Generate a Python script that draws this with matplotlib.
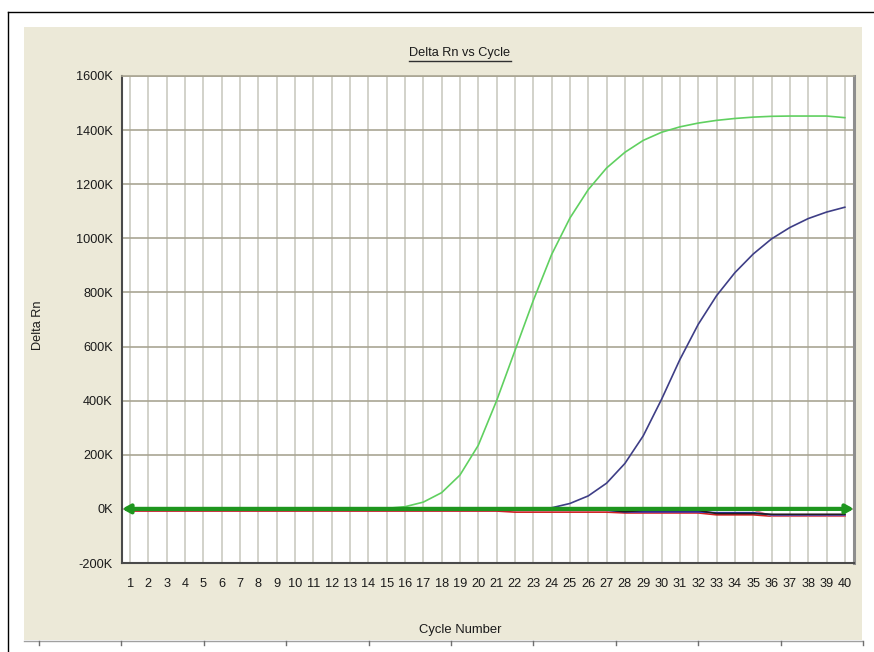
import numpy as np
import matplotlib
matplotlib.use("Agg")
import matplotlib.pyplot as plt
from matplotlib.lines import Line2D
from matplotlib.patches import Rectangle


# =====================================
# Data (Delta Rn in thousands)
# =====================================

cycles = list(range(1, 41))

sample_green = [
    -3, -2, -2, -1, -2, -1, -1, 0, -1, 0,
    0, -1, 0, 1, 2, 8, 25, 60, 125, 235,
    400, 585, 770, 940, 1075, 1180, 1260, 1318, 1362, 1392,
    1412, 1426, 1436, 1443, 1448, 1451, 1452, 1452, 1452, 1446
]

sample_navy = [
    -2, -2, -1, -2, -1, -1, -1, 0, -1, 0,
    -1, 0, -1, 0, 0, -1, 0, -1, 0, 0,
    -1, 0, 1, 4, 20, 48, 95, 168, 270, 405,
    552, 682, 788, 873, 942, 998, 1040, 1073, 1097, 1115
]

sample_red = [-8] * 21 + [-12] * 6 + [-15] * 5 + [-22] * 3 + [-27] * 5
sample_blue = [-5] * 27 + [-11] * 5 + [-14] * 3 + [-22] * 5
sample_black = [-4] * 27 + [-10] * 1 + [-6] * 4 + [-17] * 3 + [-20] * 5
sample_pink = [-4] * 35 + [-26] * 5

threshold = 0

y_ticks = list(range(-200, 1601, 200))
y_tick_labels = [f"{v}K" for v in y_ticks]


# =====================================
# Style
# =====================================

plt.rcParams['font.family'] = ['Liberation Sans', 'DejaVu Sans']

W, H = 874, 652

BEIGE = "#ECE9D8"
TEXT = "#1A1A1A"


# =====================================
# Figure + frame
# =====================================

fig = plt.figure(figsize=(W / 100, H / 100), dpi=100)
fig.patch.set_facecolor("white")

# beige panel
fig.add_artist(Rectangle(
    (24 / W, 1 - 640 / H),
    (862 - 24) / W,
    (640 - 27) / H,
    transform=fig.transFigure,
    facecolor=BEIGE,
    edgecolor="none",
    zorder=0
))

# black border top/left
fig.add_artist(Line2D(
    [8 / W, 1], [1 - 12 / H, 1 - 12 / H],
    transform=fig.transFigure, color="black", lw=1.0
))
fig.add_artist(Line2D(
    [8 / W, 8 / W], [0, 1 - 12 / H],
    transform=fig.transFigure, color="black", lw=1.0
))

# ruler along the bottom
fig.add_artist(Line2D(
    [24 / W, 862 / W], [1 - 641 / H, 1 - 641 / H],
    transform=fig.transFigure, color="#A0A0A0", lw=1.0
))
for xp in np.arange(39, 870, 82.4):
    fig.add_artist(Line2D(
        [xp / W, xp / W], [1 - 641 / H, 1 - 645 / H],
        transform=fig.transFigure, color="#707070", lw=1.0
    ))


# =====================================
# Axes
# =====================================

ax = fig.add_axes([122 / W, 1 - 563 / H, 732 / W, 487 / H])
ax.set_facecolor("white")

ax.set_xlim(0.56, 40.5)
ax.set_ylim(-200, 1600)

for c in cycles:
    ax.axvline(c, color="#CFCFC6", lw=1.3, zorder=1)
for v in y_ticks:
    ax.axhline(v, color="#A9A593", lw=1.2, zorder=1)

ax.set_xticks(cycles)
ax.set_yticks(y_ticks)
ax.set_yticklabels(y_tick_labels)
ax.tick_params(axis='x', length=0, pad=11, labelsize=9.2, colors=TEXT)
ax.tick_params(axis='y', length=0, pad=6.5, labelsize=9.2, colors=TEXT)

ax.spines['left'].set_color("#4A4A4A")
ax.spines['left'].set_linewidth(1.5)
ax.spines['bottom'].set_color("#4A4A4A")
ax.spines['bottom'].set_linewidth(1.5)
ax.spines['right'].set_color("#8E8E8E")
ax.spines['right'].set_linewidth(2.2)
ax.spines['top'].set_color("#A9A593")
ax.spines['top'].set_linewidth(1.2)


# =====================================
# Curves
# =====================================

ax.plot(cycles, sample_red, color="#D02020", lw=1.2, zorder=2)
ax.plot(cycles, sample_pink, color="#E07A8A", lw=1.2, zorder=2)
ax.plot(cycles, sample_blue, color="#3030C0", lw=1.2, zorder=2)
ax.plot(cycles, sample_black, color="#202020", lw=1.2, zorder=2)

ax.plot(cycles, sample_navy, color="#3E3E86", lw=1.2, zorder=3)
ax.plot(cycles, sample_green, color="#60D060", lw=1.2, zorder=3)

# threshold with arrow heads at both ends
ax.annotate(
    "",
    xy=(40.5, threshold),
    xytext=(0.56, threshold),
    arrowprops=dict(
        arrowstyle="<|-|>,head_length=0.45,head_width=0.25",
        color="#1E961E",
        lw=3.0,
        shrinkA=0,
        shrinkB=0
    ),
    zorder=5,
    annotation_clip=False
)


# =====================================
# Labels
# =====================================

title = fig.text(
    460 / W, 1 - 53 / H,
    "Delta Rn vs Cycle",
    ha="center", va="center",
    fontsize=9.2, color=TEXT
)

fig.text(
    460 / W, 1 - 630 / H,
    "Cycle Number",
    ha="center", va="center",
    fontsize=9.4, color=TEXT
)

fig.text(
    38 / W, 1 - 325 / H,
    "Delta Rn",
    ha="center", va="center",
    rotation=90,
    fontsize=9.2, color=TEXT
)

# underline the title
fig.canvas.draw()
bb = title.get_window_extent()
fig.add_artist(Line2D(
    [bb.x0 / W, bb.x1 / W],
    [(bb.y0 - 1.5) / H, (bb.y0 - 1.5) / H],
    transform=fig.transFigure, color="#303030", lw=1.0
))

fig.savefig("out.png", dpi=100)
